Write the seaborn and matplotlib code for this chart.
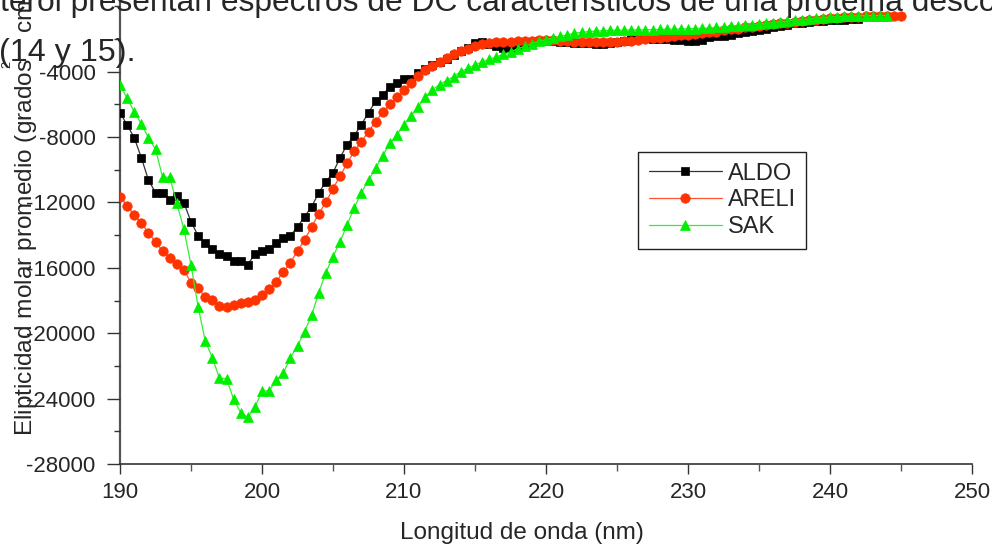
import numpy as np
import pandas as pd
import matplotlib
matplotlib.use("Agg")
import matplotlib.pyplot as plt
from matplotlib.ticker import MultipleLocator
import seaborn as sns

# ---------------- data ----------------
series_names = ["ALDO", "ARELI", "SAK"]

wl_aldo = np.arange(190, 242.01, 0.5)
aldo = [
    -6510, -7260, -8040, -9260, -10620, -11400, -11400, -11850, -11600, -12010,
    -13190, -14030, -14460, -14830, -15150, -15270, -15560, -15560, -15800, -15150,
    -14950, -14830, -14480, -14150, -14030, -13500, -12870, -12260, -11400, -10750,
    -10180, -9260, -8460, -7910, -7240, -6510, -5810, -5440, -4920, -4710,
    -4460, -4450, -4100, -3830,
    -3600, -3400, -3200, -3000, -2750, -2550, -2250, -2200, -2300, -2450,
    -2550, -2500, -2400, -2300, -2200, -2150, -2100, -2150, -2200, -2200,
    -2250, -2250, -2250, -2300, -2300, -2250, -2200, -2100, -1950, -1850,
    -1950, -2000, -2000, -2000, -2050, -2050, -2100, -2100, -2050, -1900,
    -1850, -1800, -1750, -1650, -1550, -1500, -1450, -1400, -1300, -1200,
    -1150, -1050, -1000, -950, -900, -880, -860, -840, -820, -800,
    -780,
]

wl_areli = np.arange(190, 245.01, 0.5)
areli = [
    -11645, -12200, -12760, -13270, -13850, -14420, -14970, -15380, -15760, -16130,
    -16900, -17210, -17800, -17960, -18310, -18410, -18290, -18130, -18090, -17960,
    -17640, -17310, -16840, -16250, -15700, -14950, -14310, -13480, -12700, -11990,
    -11160, -10380, -9600, -8870, -8280, -7670, -7060, -6480, -5990, -5530,
    -5120, -4710, -4245, -3900,
    -3650, -3400, -3160, -2950, -2750, -2600, -2450, -2300, -2250, -2200,
    -2180, -2170, -2150, -2120, -2100, -2080, -2060, -2080, -2120, -2150,
    -2180, -2180, -2200, -2200, -2180, -2180, -2170, -2150, -2100, -2050,
    -2000, -1960, -1920, -1880, -1820, -1780, -1750, -1700, -1650, -1600,
    -1550, -1480, -1420, -1370, -1300, -1250, -1200, -1150, -1100, -1050,
    -1000, -950, -900, -860, -820, -780, -740, -710, -680, -650,
    -630, -610, -600, -590, -580, -575, -570,
]

wl_sak = np.arange(190, 244.01, 0.5)
sak = [
    -4830, -5630, -6450, -7200, -8040, -8750, -10460, -10460, -12050, -13640,
    -15820, -18370, -20470, -21490, -22750, -22780, -24040, -24860, -25140, -24530,
    -23530, -23530, -22860, -22450, -21490, -20780, -19900, -18880, -17520, -16290,
    -15310, -14400, -13360, -12320, -11400, -10640, -9910, -9140, -8380, -7870,
    -7240, -6710, -6140, -5570,
    -5100, -4800, -4550, -4300, -4000, -3800, -3600, -3400, -3250, -3100,
    -2950, -2800, -2600, -2450, -2300, -2150, -2050, -1950, -1850, -1750,
    -1650, -1600, -1550, -1520, -1500, -1480, -1470, -1460, -1450, -1450,
    -1440, -1430, -1420, -1410, -1400, -1390, -1380, -1370, -1350, -1330,
    -1300, -1270, -1230, -1200, -1170, -1140, -1100, -1050, -1000, -950,
    -900, -860, -820, -780, -740, -700, -670, -640, -620, -600,
    -590, -580, -575, -570, -570,
]

x_ticks = [190, 200, 210, 220, 230, 240, 250]
y_ticks = [-28000, -24000, -20000, -16000, -12000, -8000, -4000]

body_line1 = "terol presentan espectros de DC característicos de una proteína desconocida"
body_line2 = "(14 y 15)."
x_title = "Longitud de onda (nm)"
y_title = "Elipticidad molar promedio (grados    cm  dmol$^{-1}$)"

# ---------------- style ----------------
sns.set_style("ticks")
plt.rcParams["font.family"] = ["Liberation Sans", "DejaVu Sans"]

W, H = 992, 544
fig = plt.figure(figsize=(W / 100, H / 100), dpi=100)
ax = fig.add_axes([120 / W, 1 - 464 / H, (972 - 120) / W, 464 / H])

colors = {"ALDO": "#000000", "ARELI": "#ff3300", "SAK": "#00ee00"}
markers = {"ALDO": "s", "ARELI": "o", "SAK": "^"}
msizes = {"ALDO": 5.5, "ARELI": 6.8, "SAK": 7.5}
line_cols = {"ALDO": "#333333", "ARELI": "#ff5533", "SAK": "#33ee33"}

data = {"ALDO": (wl_aldo, aldo), "ARELI": (wl_areli, areli), "SAK": (wl_sak, sak)}
for name in series_names:
    xs, ys = data[name]
    df = pd.DataFrame({"wl": xs, "val": ys})
    sns.lineplot(data=df, x="wl", y="val", ax=ax, sort=False, estimator=None,
                 color=line_cols[name], lw=0.9, marker=markers[name],
                 markersize=msizes[name], markerfacecolor=colors[name],
                 markeredgecolor=colors[name], markeredgewidth=0.5, label=name)

ax.set_xlim(190, 250)
ax.set_ylim(-28000, 380)
ax.set_xticks(x_ticks)
ax.set_yticks(y_ticks)
ax.xaxis.set_minor_locator(MultipleLocator(5))
ax.yaxis.set_minor_locator(MultipleLocator(2000))
ax.set_xticklabels([str(t) for t in x_ticks])
ax.set_yticklabels([str(t) for t in y_ticks])

for s in ["top", "right"]:
    ax.spines[s].set_visible(False)
ax.spines["left"].set_color("#555555")
ax.spines["left"].set_linewidth(1.6)
ax.spines["bottom"].set_color("#333333")
ax.spines["bottom"].set_linewidth(1.2)
ax.spines["left"].set_zorder(0)
ax.spines["bottom"].set_zorder(0)

ax.tick_params(axis="y", which="major", length=9.5, width=1.0, color="#333333",
               labelsize=16, pad=8, direction="out")
ax.tick_params(axis="y", which="minor", length=4.5, width=1.0, color="#333333",
               direction="out")
ax.tick_params(axis="x", which="major", length=7, width=1.0, color="#333333",
               labelsize=16, pad=6, direction="out")
ax.tick_params(axis="x", which="minor", length=5, width=1.0, color="#555555",
               direction="out")

ax.set_xlabel(x_title, fontsize=17.5)
ax.xaxis.set_label_coords((522 - 120) / (972 - 120), -0.125)
ax.set_ylabel("")
ax.patch.set_alpha(0)

leg = ax.legend(loc="upper left", bbox_to_anchor=(638 / W, 1 - 152 / H),
                bbox_transform=fig.transFigure, borderaxespad=0,
                fontsize=17, frameon=True, fancybox=False, framealpha=1,
                edgecolor="#222222", handlelength=3.1, handletextpad=0.25,
                borderpad=0.45, labelspacing=0.2)
leg.get_frame().set_linewidth(1.0)

# y axis title (rotated, cut at the top of the picture)
fig.text(25 / W, 1 - 436 / H, y_title, rotation=90, ha="center", va="bottom",
         fontsize=17.6)
fig.text(7 / W, 1 - 64 / H, "2", rotation=90, ha="center", va="center",
         fontsize=9)

# document text that overlaps the picture
fig.text(0 / W, 1 - 11 / H, body_line1, ha="left", va="baseline", fontsize=22.9)
fig.text(-1 / W, 1 - 61 / H, body_line2, ha="left", va="baseline", fontsize=23.2)

fig.savefig("out.png", dpi=100)
